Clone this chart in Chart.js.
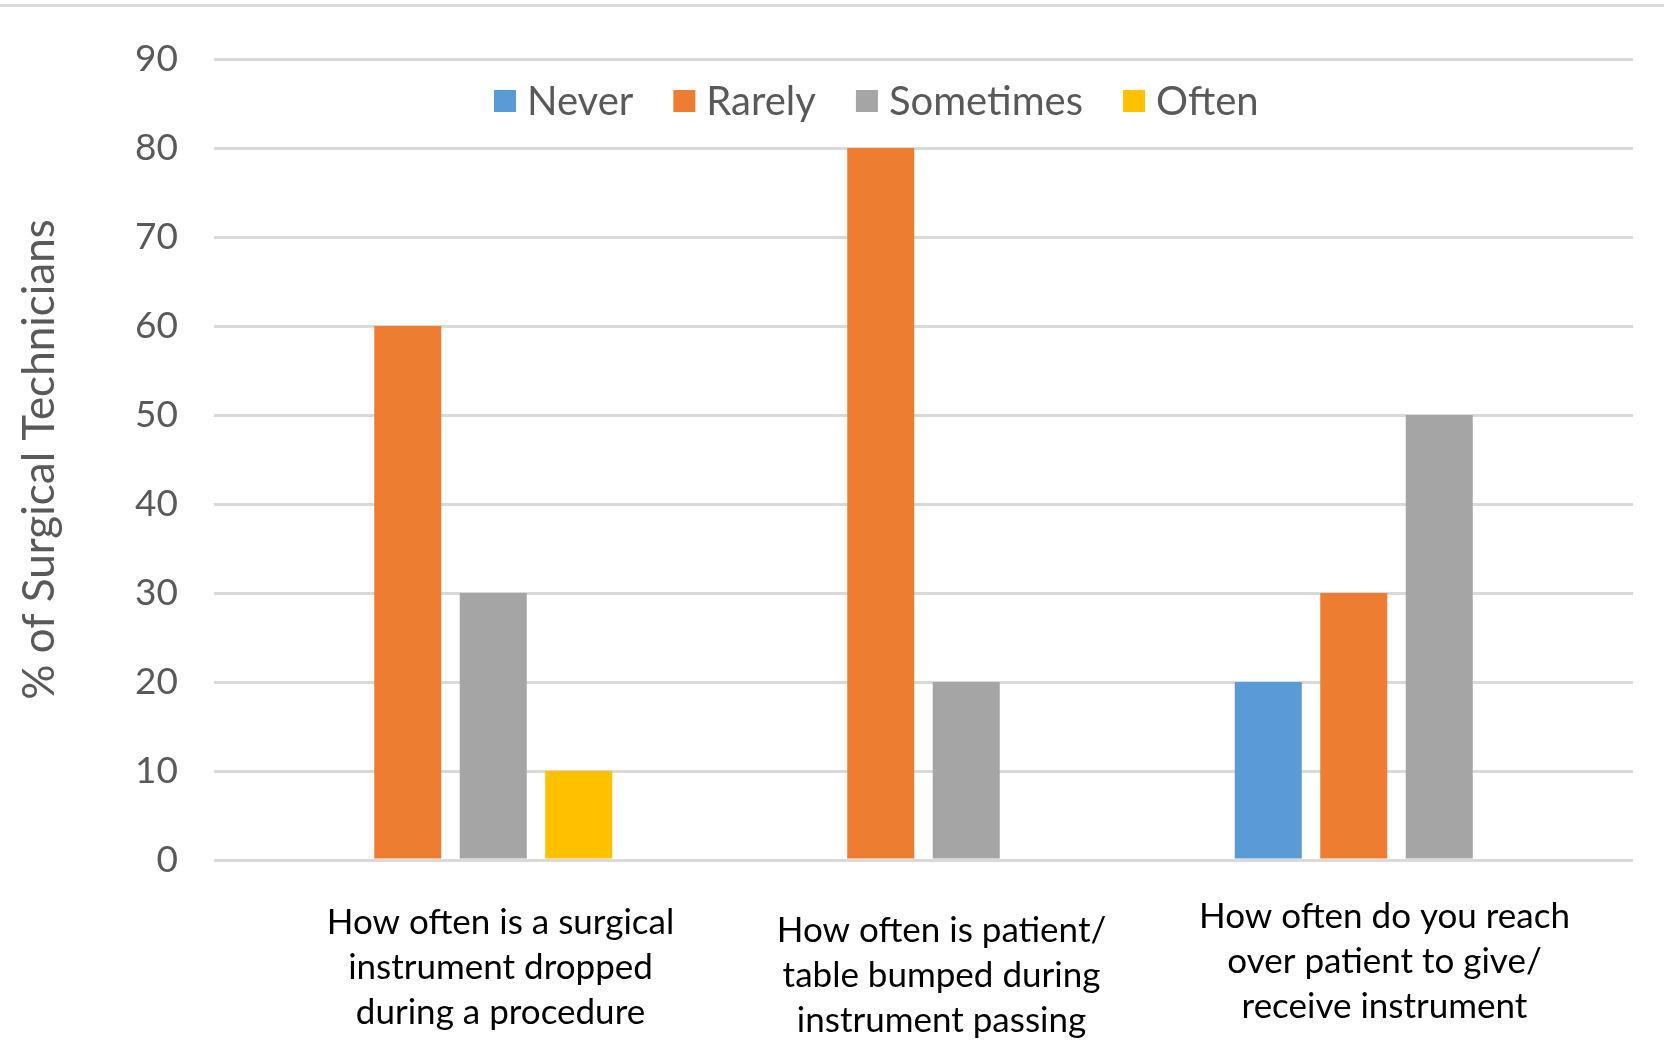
<!DOCTYPE html>
<html>
<head>
<meta charset="utf-8">
<script src="https://cdn.jsdelivr.net/npm/chart.js@4/dist/chart.umd.min.js"></script>
<style>
  html, body { margin: 0; padding: 0; background: #ffffff; }
  #wrap { position: relative; width: 1664px; height: 1040px; }
  #topRule { position: absolute; left: 0; top: 4px; width: 1664px; height: 3px; background: #d9d9d9; }
  canvas { display: block; }
</style>
</head>
<body>
<div id="wrap">
  <div id="topRule"></div>
  <canvas id="chart" width="1664" height="1040"></canvas>
</div>
<script>
// Survey questions (x categories), each split over several lines
const categories = [
  ['How often is a surgical', 'instrument dropped', 'during a procedure'],
  ['How often is patient/', 'table bumped during', 'instrument passing'],
  ['How often do you reach', 'over patient to give/', 'receive instrument']
];

// Share of surgical technicians per answer (%)
const never     = [0, 0, 20];
const rarely    = [60, 80, 30];
const sometimes = [30, 20, 50];
const often     = [10, 0, 0];

const seriesNames = ['Never', 'Rarely', 'Sometimes', 'Often'];
const seriesColors = ['#5B9BD5', '#ED7D31', '#A5A5A5', '#FFC000'];

const yTicks = [0, 10, 20, 30, 40, 50, 60, 70, 80, 90];
const yTitle = '% of Surgical Technicians';

const FONT = 'Lato, "Open Sans", "Liberation Sans", sans-serif';
const TEXT_GREY = '#595959';

// Category labels: drawn under the axis, each block nudged like the original text boxes
const labelNudge = [
  { dx: 50, dy: 63 },
  { dx: 18, dy: 71 },
  { dx: -12, dy: 57 }
];
const labelLineHeight = 44.7;

const categoryLabelsPlugin = {
  id: 'categoryLabels',
  afterDraw(chart) {
    const ctx = chart.ctx;
    const xs = chart.scales.x;
    const base = chart.chartArea.bottom;
    ctx.save();
    ctx.font = '35px ' + FONT;
    ctx.fillStyle = '#000000';
    ctx.textAlign = 'center';
    ctx.textBaseline = 'middle';
    categories.forEach((lines, i) => {
      const cx = xs.getPixelForValue(i) + labelNudge[i].dx;
      lines.forEach((line, j) => {
        ctx.fillText(line, cx, base + labelNudge[i].dy + j * labelLineHeight);
      });
    });
    ctx.restore();
  }
};

// Legend sitting inside the plot, between the two top grid lines
const legendLayout = { left: 494, centerY: 101, box: 22, textGap: 11, itemGap: 40 };
const innerLegendPlugin = {
  id: 'innerLegend',
  afterDraw(chart) {
    const ctx = chart.ctx;
    ctx.save();
    ctx.font = '40px ' + FONT;
    ctx.textBaseline = 'middle';
    ctx.textAlign = 'left';
    let x = legendLayout.left;
    chart.data.datasets.forEach(ds => {
      ctx.fillStyle = ds.backgroundColor;
      ctx.fillRect(x, legendLayout.centerY - legendLayout.box / 2, legendLayout.box, legendLayout.box);
      x += legendLayout.box + legendLayout.textGap;
      ctx.fillStyle = TEXT_GREY;
      ctx.fillText(ds.label, x, legendLayout.centerY + 1);
      x += ctx.measureText(ds.label).width + legendLayout.itemGap;
    });
    ctx.restore();
  }
};

const seriesValues = [never, rarely, sometimes, often];

new Chart(document.getElementById('chart'), {
  type: 'bar',
  data: {
    labels: categories.map(c => c.join(' ')),
    datasets: seriesNames.map((name, i) => ({
      label: name,
      data: seriesValues[i],
      backgroundColor: seriesColors[i],
      borderWidth: 0,
      categoryPercentage: 0.723,
      barPercentage: 0.784
    }))
  },
  options: {
    responsive: false,
    animation: false,
    layout: { padding: { left: 0, right: 31, top: 59, bottom: 0 } },
    plugins: {
      legend: { display: false },
      tooltip: { enabled: false }
    },
    scales: {
      x: {
        grid: { display: false },
        border: { display: false },
        ticks: { display: false },
        afterFit(scale) { scale.height = 180; }
      },
      y: {
        min: 0,
        max: 90,
        afterBuildTicks(scale) { scale.ticks = yTicks.map(v => ({ value: v })); },
        grid: { color: '#d9d9d9', lineWidth: 3, drawTicks: false },
        border: { display: false },
        ticks: {
          color: TEXT_GREY,
          font: { family: FONT, size: 37 },
          padding: 36
        },
        title: {
          display: true,
          text: yTitle,
          color: TEXT_GREY,
          font: { family: FONT, size: 44 },
          padding: { top: 13, bottom: 0 }
        },
        afterFit(scale) { scale.width = 214; }
      }
    }
  },
  plugins: [categoryLabelsPlugin, innerLegendPlugin]
});
</script>
</body>
</html>
